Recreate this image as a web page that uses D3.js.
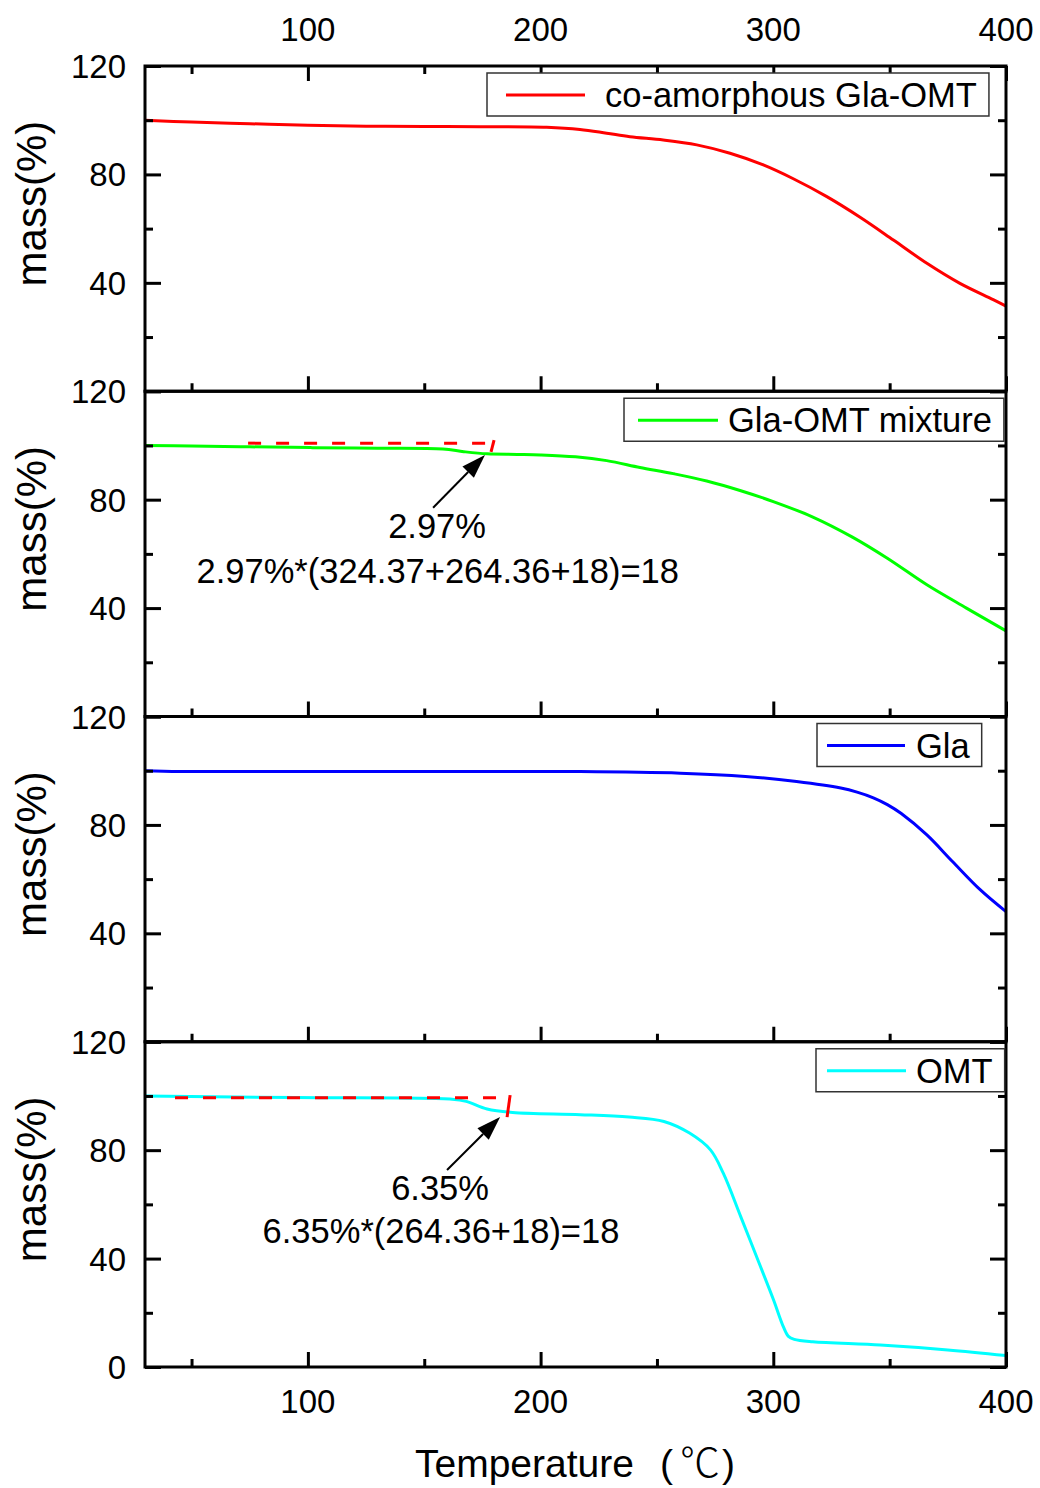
<!DOCTYPE html>
<html><head><meta charset="utf-8">
<script src="https://cdn.jsdelivr.net/npm/d3@7/dist/d3.min.js"></script>
<style>body{margin:0;background:#fff}</style>
</head><body>
<svg id="c" width="1040" height="1488"></svg>
<script>
// ---------- data ----------
const seriesNames = ["co-amorphous Gla-OMT", "Gla-OMT mixture", "Gla", "OMT"];
const seriesColors = ["#ff0000", "#00ff00", "#0000ff", "#00ffff"];

const redT   = [30,50,75,100,125,150,174,202.6,216.9,228.4,238.4,252.7,267.1,281.4,295.7,308.6,323,337.3,351.6,366,380.2,394.5,400];
const redM   = [100,99.3,98.7,98.1,97.8,97.7,97.6,97.4,96.6,95.2,93.9,92.7,90.9,87.8,83.5,78.4,71.8,64.2,55.8,47.2,39.8,33.8,31.4];

const greenT = [30,50,75,102,130,158,167,177,190,200,215,228.4,242.7,257,271.4,285.7,300,317,334,349,366,383,400];
const greenM = [100,99.8,99.5,99.2,99.0,98.7,97.7,96.9,96.7,96.5,95.8,94.4,91.9,89.6,86.9,83.4,79.3,73.6,66.2,58.4,48.6,40.0,31.6];

const blueT  = [30,45,100,150,200,217,260,288,310,329,336,343,349,355,366,377,389,400];
const blueM  = [100,99.7,99.7,99.7,99.7,99.7,99.1,97.9,96.0,93.6,92.1,90.0,87.5,84.2,76.3,66.5,56.0,48.0];

const cyanT  = [30,95,162,168,177,188,217,238,253,264,273,278.5,286,293,300,304.3,306.5,309,317,346,375,400];
const cyanM  = [100,99.4,98.8,98.0,95.2,93.9,93.1,92.2,90.6,86.3,80.1,71.5,55.5,40.3,25.0,14.9,11.3,10.2,9.3,8.1,6.3,4.2];

const seriesT = [redT, greenT, blueT, cyanT];
const seriesM = [redM, greenM, blueM, cyanM];

const xMajorTicks = [100, 200, 300, 400];
const xMinorTicks = [50, 150, 250, 350];
const yMajorTicks = [0, 40, 80, 120];
const yMinorTicks = [20, 60, 100];
const yLabelTicks = [40, 80, 120];

// annotations (data coordinates)
const annPanels   = [1, 3];
const annDashY    = [100.85, 99.3];
const annDashX    = [[74.3, 178.5], [42.9, 183.8]];
const annTick     = [[[180, 102.0], [178.7, 97.6]], [[186.9, 100.3], [185.6, 92.2]]];
const annArrow    = [[[153.8, 77.0], [176.1, 96.5]], [[159.8, 72.7], [182.6, 92.2]]];
const annLabel1   = ["2.97%", "6.35%"];
const annLabel1At = [[155.5, 65.8], [156.8, 61.6]];
const annLabel2   = ["2.97%*(324.37+264.36+18)=18", "6.35%*(264.36+18)=18"];
const annLabel2At = [[155.8, 49.2], [157.2, 45.7]];

// ---------- layout ----------
const L = 145, R = 1006, top0 = 66, H = 325.25;
const FONT = "'Liberation Sans', Arial, sans-serif";
const CJK = "'Noto Sans CJK SC', 'DejaVu Sans', sans-serif";
const legendLayout = [
  {bx: 487, lx1: 506, lx2: 585, tx: 605},
  {bx: 624, lx1: 638, lx2: 718, tx: 728},
  {bx: 817, lx1: 827, lx2: 905, tx: 916},
  {bx: 816, lx1: 827, lx2: 906, tx: 916}
];

const svg = d3.select("#c");
const x = d3.scaleLinear().domain([30, 400]).range([L, R]);

for (let p = 0; p < 4; p++) {
  const t = top0 + p * H, b = t + H;
  const y = d3.scaleLinear().domain([0, 120]).range([b, t]);
  const g = svg.append("g");

  // data line
  const pts = seriesT[p].map((v, i) => [v, seriesM[p][i]]);
  g.append("path").datum(pts)
    .attr("fill", "none").attr("stroke", seriesColors[p]).attr("stroke-width", 3)
    .attr("stroke-linejoin", "round")
    .attr("d", d3.line().x(d => x(d[0])).y(d => y(d[1])).curve(d3.curveCatmullRom.alpha(0.5)));

  // ticks: bottom (inward, up)
  [d3.axisBottom(x).tickValues(xMajorTicks).tickSize(-15).tickFormat(""),
   d3.axisBottom(x).tickValues(xMinorTicks).tickSize(-8).tickFormat("")].forEach(a => {
    const ag = g.append("g").attr("transform", `translate(0,${b})`).call(a);
    ag.select(".domain").remove();
    ag.selectAll("line").attr("stroke", "#000").attr("stroke-width", 3);
  });
  if (p === 0) {
    [d3.axisTop(x).tickValues(xMajorTicks).tickSize(-15).tickFormat(""),
     d3.axisTop(x).tickValues(xMinorTicks).tickSize(-8).tickFormat("")].forEach(a => {
      const ag = g.append("g").attr("transform", `translate(0,${t})`).call(a);
      ag.select(".domain").remove();
      ag.selectAll("line").attr("stroke", "#000").attr("stroke-width", 3);
    });
    g.selectAll(".tl").data(xMajorTicks).enter().append("text")
      .attr("x", d => x(d)).attr("y", 41).attr("text-anchor", "middle")
      .attr("font-family", FONT).attr("font-size", 33).text(d => d);
  }
  if (p === 3) {
    g.selectAll(".bl").data(xMajorTicks).enter().append("text")
      .attr("x", d => x(d)).attr("y", 1413).attr("text-anchor", "middle")
      .attr("font-family", FONT).attr("font-size", 33).text(d => d);
  }
  // y ticks left & right
  [[d3.axisLeft(y).tickValues(yMajorTicks).tickSize(-16).tickFormat(""), L],
   [d3.axisLeft(y).tickValues(yMinorTicks).tickSize(-8).tickFormat(""), L],
   [d3.axisRight(y).tickValues(yMajorTicks).tickSize(-16).tickFormat(""), R],
   [d3.axisRight(y).tickValues(yMinorTicks).tickSize(-8).tickFormat(""), R]].forEach(([a, xx]) => {
    const ag = g.append("g").attr("transform", `translate(${xx},0)`).call(a);
    ag.select(".domain").remove();
    ag.selectAll("line").attr("stroke", "#000").attr("stroke-width", 3);
  });
  const labs = p === 3 ? [0].concat(yLabelTicks) : yLabelTicks;
  g.selectAll(".yl").data(labs).enter().append("text")
    .attr("x", 126).attr("y", d => y(d) + 12).attr("text-anchor", "end")
    .attr("font-family", FONT).attr("font-size", 33).text(d => d);

  // frame
  g.append("rect").attr("x", L).attr("y", t).attr("width", R - L).attr("height", H)
    .attr("fill", "none").attr("stroke", "#000").attr("stroke-width", 3);

  // y title
  g.append("text").attr("transform", `translate(46,${t + H / 2 - 25}) rotate(-90)`)
    .attr("text-anchor", "middle").attr("font-family", FONT).attr("font-size", 42)
    .text("mass(%)");

  // legend
  const lg = legendLayout[p];
  const box = g.append("rect");
  const lt = g.append("text").attr("x", lg.tx).attr("y", t + 41)
    .attr("font-family", FONT).attr("font-size", 34.5).text(seriesNames[p]);
  const tw = lt.node().getComputedTextLength();
  box.attr("x", lg.bx).attr("y", t + 7)
    .attr("width", lg.tx + tw + 12 - lg.bx).attr("height", 43)
    .attr("fill", "#fff").attr("stroke", "#333").attr("stroke-width", 1.5);
  g.append("line").attr("x1", lg.lx1).attr("x2", lg.lx2).attr("y1", t + 29).attr("y2", t + 29)
    .attr("stroke", seriesColors[p]).attr("stroke-width", 3);

  // annotations
  const ai = annPanels.indexOf(p);
  if (ai >= 0) {
    g.append("line")
      .attr("x1", x(annDashX[ai][0])).attr("x2", x(annDashX[ai][1]))
      .attr("y1", y(annDashY[ai])).attr("y2", y(annDashY[ai]))
      .attr("stroke", "#ff0000").attr("stroke-width", 3).attr("stroke-dasharray", "13,15");
    const tk = annTick[ai];
    g.append("line").attr("x1", x(tk[0][0])).attr("y1", y(tk[0][1]))
      .attr("x2", x(tk[1][0])).attr("y2", y(tk[1][1]))
      .attr("stroke", "#ff0000").attr("stroke-width", 3);
    const ar = annArrow[ai];
    const x1 = x(ar[0][0]), y1 = y(ar[0][1]), x2 = x(ar[1][0]), y2 = y(ar[1][1]);
    const ang = Math.atan2(y2 - y1, x2 - x1), hl = 24, hw = 8;
    const bx = x2 - hl * Math.cos(ang), by = y2 - hl * Math.sin(ang);
    g.append("line").attr("x1", x1).attr("y1", y1).attr("x2", bx).attr("y2", by)
      .attr("stroke", "#000").attr("stroke-width", 2);
    g.append("path").attr("fill", "#000")
      .attr("d", `M${x2},${y2}L${bx + hw * Math.sin(ang)},${by - hw * Math.cos(ang)}L${bx - hw * Math.sin(ang)},${by + hw * Math.cos(ang)}Z`);
    g.append("text").attr("x", x(annLabel1At[ai][0])).attr("y", y(annLabel1At[ai][1]))
      .attr("text-anchor", "middle").attr("font-family", FONT).attr("font-size", 34.5).text(annLabel1[ai]);
    g.append("text").attr("x", x(annLabel2At[ai][0])).attr("y", y(annLabel2At[ai][1]))
      .attr("text-anchor", "middle").attr("font-family", FONT).attr("font-size", 34.5).text(annLabel2[ai]);
  }
}

// x title
const xt = svg.append("text").attr("y", 1477).attr("font-family", FONT).attr("font-size", 39);
xt.append("tspan").attr("x", 415).text("Temperature");
xt.append("tspan").attr("x", 660).text("(");
xt.append("tspan").attr("x", 680).attr("font-family", CJK).attr("font-weight", 300).attr("font-size", 40).text("℃");
xt.append("tspan").attr("x", 722).text(")");
</script>
</body></html>
